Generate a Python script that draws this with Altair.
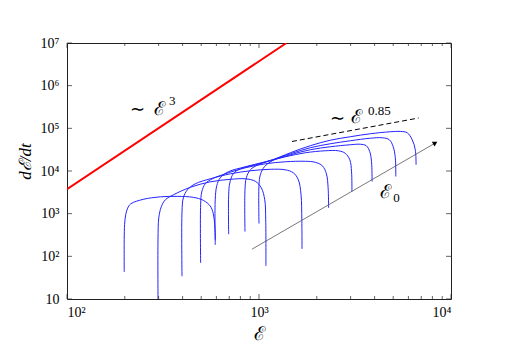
import altair as alt
import pandas as pd

W, H = 384, 256

# Blue trajectories, as log10 values (log10 E, log10 dE/dt)
curve_logE = [
    [2.298, 2.298, 2.300, 2.306, 2.316, 2.332, 2.397, 2.486, 2.574, 2.658, 2.710, 2.746, 2.762, 2.769, 2.772, 2.772],
    [2.474, 2.474, 2.478, 2.491, 2.512, 2.554, 2.642, 2.746, 2.851, 2.929, 2.981, 3.012, 3.030, 3.035, 3.036],
    [2.599, 2.599, 2.606, 2.627, 2.668, 2.746, 2.851, 2.955, 3.059, 3.137, 3.179, 3.205, 3.219, 3.223, 3.224],
    [2.696, 2.696, 2.702, 2.720, 2.757, 2.824, 2.929, 3.033, 3.137, 3.241, 3.293, 3.330, 3.351, 3.360, 3.3625],
    [2.772, 2.772, 2.780, 2.798, 2.840, 2.929, 3.033, 3.137, 3.241, 3.345, 3.413, 3.449, 3.473, 3.482, 3.484],
    [2.842, 2.842, 2.848, 2.866, 2.903, 2.981, 3.069, 3.163, 3.267, 3.371, 3.4755, 3.528, 3.559, 3.577, 3.586, 3.589],
    [2.927, 2.927, 2.934, 2.955, 2.996, 3.069, 3.163, 3.267, 3.371, 3.4755, 3.580, 3.642, 3.679, 3.699, 3.710, 3.7125],
    [3.000, 3.000, 3.007, 3.028, 3.069, 3.163, 3.267, 3.371, 3.4755, 3.580, 3.684, 3.736, 3.772, 3.798, 3.814, 3.818],
]
curve_logY = [
    [1.634, 2.400, 2.750, 2.980, 3.130, 3.230, 3.336, 3.394, 3.406, 3.383, 3.312, 3.180, 3.000, 2.750, 2.500, 2.268],
    [1.000, 2.385, 2.901, 3.160, 3.324, 3.441, 3.617, 3.746, 3.805, 3.817, 3.758, 3.606, 3.324, 2.854, 1.775],
    [1.533, 3.042, 3.371, 3.559, 3.700, 3.817, 3.934, 4.005, 4.040, 4.028, 3.958, 3.793, 3.441, 2.854, 2.174],
    [1.845, 3.207, 3.512, 3.700, 3.817, 3.934, 4.075, 4.169, 4.216, 4.228, 4.204, 4.122, 3.934, 3.606, 3.136],
    [2.385, 3.324, 3.653, 3.840, 3.981, 4.099, 4.216, 4.333, 4.427, 4.474, 4.474, 4.415, 4.263, 3.981, 3.519],
    [2.519, 3.441, 3.723, 3.934, 4.052, 4.146, 4.251, 4.380, 4.498, 4.568, 4.615, 4.627, 4.592, 4.451, 4.216, 3.754],
    [2.580, 3.559, 3.840, 4.028, 4.146, 4.263, 4.404, 4.545, 4.638, 4.709, 4.768, 4.779, 4.732, 4.568, 4.310, 3.871],
    [2.768, 3.676, 3.911, 4.099, 4.239, 4.427, 4.592, 4.721, 4.803, 4.873, 4.920, 4.927, 4.897, 4.732, 4.498, 4.146],
]

# ~E^3 reference line (red)
red_E = [100, 1390]
red_Y = [3760, 1.0e7]
# ~E^0.85 reference line (dashed)
dash_E = [1485, 6780]
dash_Y = [49200, 174600]
# E0 arrow
arrow_E = [919, 8280]
arrow_Y = [147, 45200]

# axis ticks
x_major = [100, 1000, 10000]
x_minor = [200, 300, 400, 500, 600, 700, 800, 900,
           2000, 3000, 4000, 5000, 6000, 7000, 8000, 9000]
y_major = [10, 100, 1000, 10000, 100000, 1000000, 10000000]

# annotations: text, E, dE/dt, font size
ann_text = ["∼", "ℰ", "3", "∼", "ℰ", "0.85", "ℰ", "0"]
ann_E = [212, 285, 340, 2330, 3020, 3700, 4290, 5000]
ann_Y = [200000, 210000, 360000, 128000, 135000, 200000, 2350, 1900]
ann_size = [18, 19, 13, 18, 19, 13, 19, 13]

rows = []
for k, (le, ly) in enumerate(zip(curve_logE, curve_logY)):
    for i, (a, b) in enumerate(zip(le, ly)):
        rows.append({"curve": k, "i": i, "E": 10 ** a, "Y": 10 ** b})
curves = pd.DataFrame(rows)

SERIF = "Liberation Serif"
sup = {10: "10", 100: "10²", 1000: "10³", 10000: "10⁴", 100000: "10⁵",
       1000000: "10⁶", 10000000: "10⁷"}
label_expr = " : ".join(
    [f"datum.value == {v} ? '{s}'" for v, s in list(sup.items())[:-1]]
) + " : '10⁷'"

xscale = alt.Scale(type="log", domain=[100, 10000], nice=False)
yscale = alt.Scale(type="log", domain=[10, 1e7], nice=False)

xaxis = alt.Axis(values=x_major, labelExpr=label_expr, ticks=False, domain=False,
                 grid=False, labelFont=SERIF, labelFontSize=14, labelColor="black",
                 labelPadding=6, title="ℰ", titleFont=SERIF, titleFontSize=19,
                 titleFontWeight="normal", titleColor="black", titleY=40,
                 titleBaseline="alphabetic")
yaxis = alt.Axis(values=y_major, labelExpr=label_expr, ticks=False, domain=False,
                 grid=False, labelFont=SERIF, labelFontSize=14, labelColor="black",
                 labelPadding=8, title="dℰ/dt", titleFont=SERIF, titleFontSize=17,
                 titleFontStyle="italic", titleFontWeight="normal", titleColor="black",
                 titleX=-37, titleY=118, titleBaseline="alphabetic", titleAngle=270)

def X(field="E"):
    return alt.X(f"{field}:Q", scale=xscale, axis=xaxis)

def Y(field="Y"):
    return alt.Y(f"{field}:Q", scale=yscale, axis=yaxis)

blue = alt.Chart(curves).mark_line(
    color="#2424ff", strokeWidth=1, interpolate="catmull-rom", clip=True
).encode(x=X(), y=Y(), detail="curve:N", order="i:Q")

red = alt.Chart(pd.DataFrame({"E": red_E, "Y": red_Y})).mark_line(
    color="#ff0000", strokeWidth=2, clip=True).encode(x=X(), y=Y())

dashed = alt.Chart(pd.DataFrame({"E": dash_E, "Y": dash_Y})).mark_line(
    color="black", strokeWidth=1, strokeDash=[5, 3]).encode(x=X(), y=Y())

arrow_df = pd.DataFrame({"E": arrow_E, "Y": arrow_Y})
arrow = alt.Chart(arrow_df).mark_line(color="#555555", strokeWidth=0.8).encode(x=X(), y=Y())
head = alt.Chart(arrow_df.iloc[[1]]).mark_point(
    shape="triangle-right", filled=True, color="black", size=30, angle=330, opacity=1
).encode(x=X(), y=Y())

ann_df = pd.DataFrame({"t": ann_text, "E": ann_E, "Y": ann_Y, "s": ann_size})
ann = alt.Chart(ann_df).mark_text(
    font=SERIF, align="left", baseline="alphabetic", color="black"
).encode(x=X(), y=Y(), text="t:N", size=alt.Size("s:Q", scale=None, legend=None))

xmaj = pd.DataFrame({"E": x_major})
xmin = pd.DataFrame({"E": x_minor})
ymaj = pd.DataFrame({"Y": y_major})

tick_layers = [
    alt.Chart(xmaj).mark_tick(orient="vertical", size=5, thickness=1, color="#222").encode(x=X(), y=alt.value(H - 2.5)),
    alt.Chart(xmaj).mark_tick(orient="vertical", size=5, thickness=1, color="#222").encode(x=X(), y=alt.value(2.5)),
    alt.Chart(xmin).mark_tick(orient="vertical", size=3, thickness=1, color="#222").encode(x=X(), y=alt.value(H - 1.5)),
    alt.Chart(xmin).mark_tick(orient="vertical", size=3, thickness=1, color="#222").encode(x=X(), y=alt.value(1.5)),
    alt.Chart(ymaj).mark_tick(orient="horizontal", size=5, thickness=1, color="#222").encode(y=Y(), x=alt.value(2.5)),
    alt.Chart(ymaj).mark_tick(orient="horizontal", size=5, thickness=1, color="#222").encode(y=Y(), x=alt.value(W - 2.5)),
]

chart = alt.layer(blue, red, dashed, arrow, head, ann, *tick_layers).properties(
    width=W, height=H,
    autosize=alt.AutoSizeParams(type="none"),
    padding={"left": 59, "top": 35, "right": 50, "bottom": 44},
).configure_view(stroke="#222", strokeWidth=1)

chart.save("out.html", embed_options={"renderer": "svg", "actions": False})
